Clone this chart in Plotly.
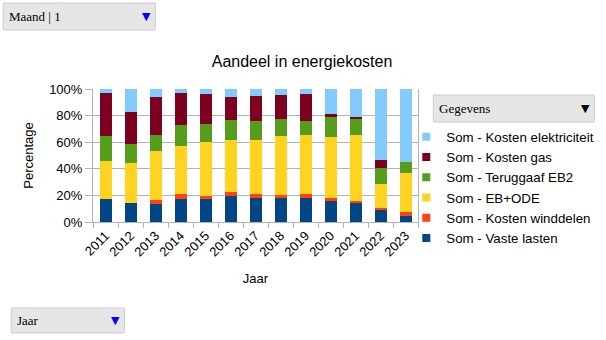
import plotly.graph_objects as go

years = ["2011", "2012", "2013", "2014", "2015", "2016", "2017",
         "2018", "2019", "2020", "2021", "2022", "2023"]

vaste_lasten = [17.0, 14.6, 13.4, 17.2, 17.2, 19.2, 17.9, 17.9, 18.2, 15.7, 14.1, 9.6, 4.5]
kosten_winddelen = [0.0, 0.0, 2.8, 3.5, 2.7, 3.0, 2.8, 2.3, 2.5, 2.0, 1.8, 1.3, 3.3]
eb_ode = [29.0, 30.1, 37.3, 36.4, 40.2, 39.7, 40.9, 44.4, 44.5, 46.2, 49.8, 17.6, 29.3]
teruggaaf_eb2 = [18.6, 13.6, 11.9, 16.1, 13.9, 15.1, 14.2, 12.9, 10.8, 15.1, 12.1, 11.9, 8.1]
kosten_gas = [32.4, 24.3, 28.8, 23.5, 22.2, 16.9, 19.1, 18.0, 20.5, 2.3, 1.5, 6.3, 0.0]
kosten_elektriciteit = [3.0, 17.4, 5.8, 3.3, 3.8, 6.1, 5.1, 4.5, 3.5, 18.7, 20.7, 53.3, 54.8]

y_ticks = [0, 20, 40, 60, 80, 100]
y_tick_labels = ["0%", "20%", "40%", "60%", "80%", "100%"]

series = [
    ("Som - Vaste lasten", vaste_lasten, "#004586"),
    ("Som - Kosten winddelen", kosten_winddelen, "#ff420e"),
    ("Som - EB+ODE", eb_ode, "#ffd320"),
    ("Som - Teruggaaf EB2", teruggaaf_eb2, "#579d1c"),
    ("Som - Kosten gas", kosten_gas, "#7e0021"),
    ("Som - Kosten elektriciteit", kosten_elektriciteit, "#83caff"),
]

W, H = 606, 340
L, R, T, B = 92.7, 417.7, 89, 222

def px(x):
    return (x - L) / (R - L)

def py(y):
    return (B - y) / (B - T)

fig = go.Figure()
for name, vals, col in series:
    fig.add_trace(go.Bar(x=years, y=vals, name=name, marker_color=col,
                         marker_line_width=0, showlegend=False))
# legend entries with small square keys (top to bottom as in the reference)
for name, vals, col in reversed(series):
    fig.add_trace(go.Scatter(x=[None], y=[None], mode="markers", name=name,
                             marker=dict(symbol="square", size=8, color=col)))

fig.update_layout(
    width=W, height=H,
    margin=dict(l=L, r=W - R, t=T, b=H - B, pad=0, autoexpand=False),
    paper_bgcolor="white", plot_bgcolor="white",
    barmode="stack", bargap=0.52,
    font=dict(family="Liberation Sans, Arial, sans-serif", size=13, color="#000"),
    title=dict(text="Aandeel in energiekosten", x=302 / W, xanchor="center",
               y=1 - 61 / H, yanchor="middle", font=dict(size=16)),
    xaxis=dict(showgrid=False, showline=True, linecolor="#b3b3b3",
               ticks="outside", tickson="boundaries", ticklen=5, tickcolor="#b3b3b3",
               tickangle=-45, tickfont=dict(size=13), automargin=False,
               title=dict(text="Jaar", standoff=15, font=dict(size=13))),
    yaxis=dict(range=[0, 100], tickvals=y_ticks, ticktext=y_tick_labels,
               showgrid=True, gridcolor="#b3b3b3", showline=True, linecolor="#b3b3b3",
               mirror=True,
               ticks="outside", ticklen=7, tickcolor="#b3b3b3", tickfont=dict(size=13),
               zeroline=False, automargin=False,
               title=dict(text="Percentage", standoff=12, font=dict(size=13))),
    legend=dict(x=px(406), y=py(121.5), xanchor="left", yanchor="top",
                traceorder="normal", font=dict(size=13.3), itemwidth=30,
                tracegroupgap=0, bgcolor="rgba(0,0,0,0)"),
)

def box(x0, y0, x1, y1, label, arrow_color):
    fig.add_shape(type="rect", xref="paper", yref="paper",
                  x0=px(x0), x1=px(x1), y0=py(y1), y1=py(y0),
                  fillcolor="#e6e6e6", line=dict(color="#cccccc", width=1))
    fig.add_annotation(xref="paper", yref="paper", x=px(x0 + 4), y=py((y0 + y1) / 2),
                       xanchor="left", yanchor="middle", showarrow=False, text=label,
                       font=dict(family="Liberation Serif, serif", size=13, color="#000"))
    fig.add_annotation(xref="paper", yref="paper", x=px(x1 - 9), y=py((y0 + y1) / 2),
                       xanchor="center", yanchor="middle", showarrow=False, text="▼",
                       font=dict(family="DejaVu Sans", size=11, color=arrow_color))

box(3, 3, 155, 30, "Maand | 1", "#0000ff")
box(433, 95, 594, 122, "Gegevens", "#000000")
box(11, 308, 124, 333, "Jaar", "#0000ff")

fig.write_html("out.html")
